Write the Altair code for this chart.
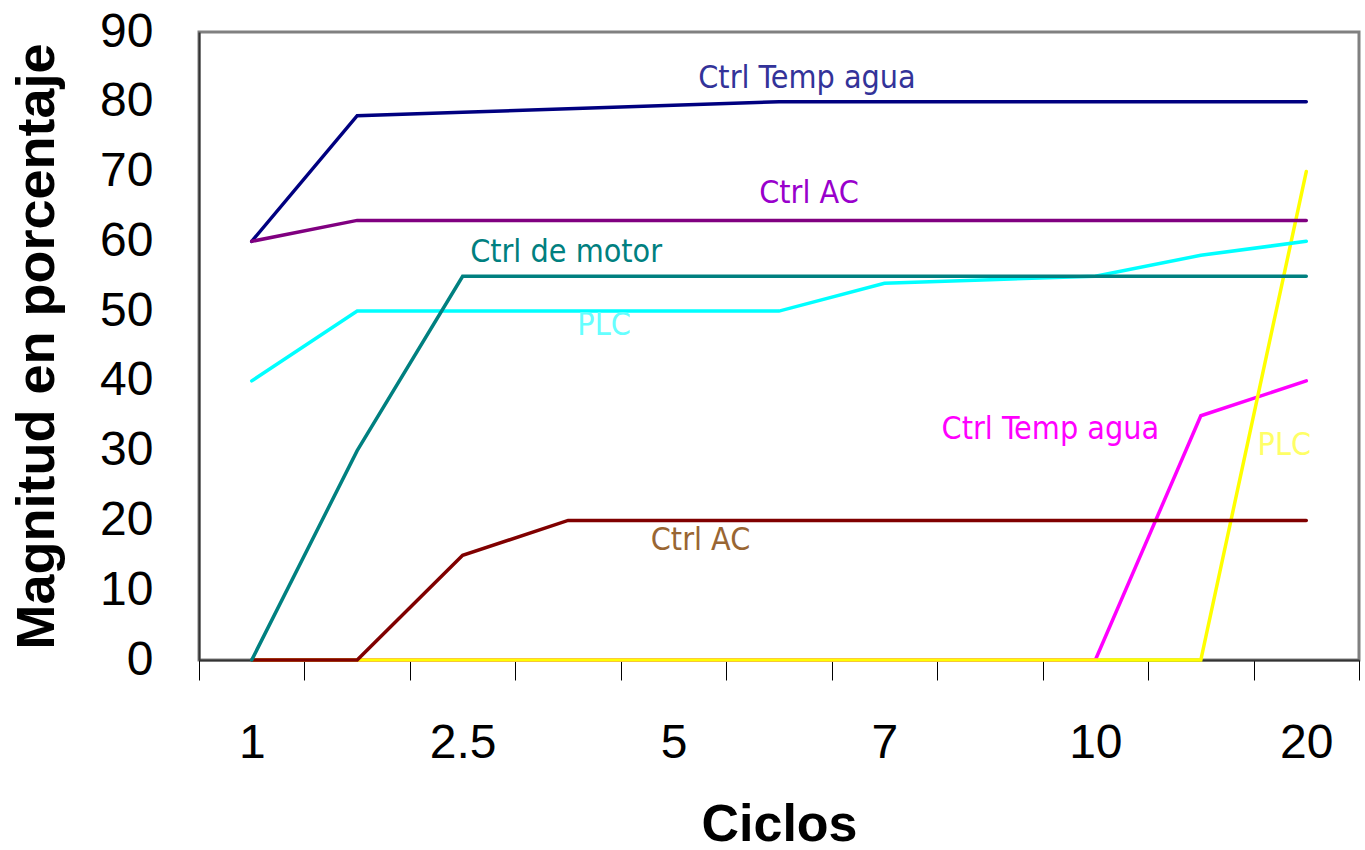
import altair as alt
import pandas as pd

# Cycle categories (every other label left blank on the axis)
categories = list(range(11))
tick_labels = ["1", "", "2.5", "", "5", "", "7", "", "10", "", "20"]

# Series values, in percent, in drawing order
series_names = [
    "Ctrl Temp agua (1)",
    "Ctrl Temp agua (2)",
    "PLC (2)",
    "PLC (1)",
    "Ctrl AC (1)",
    "Ctrl AC (2)",
    "Ctrl de motor",
]
series_values = [
    [60, 78, 78.5, 79, 79.5, 80, 80, 80, 80, 80, 80],
    [0, 0, 0, 0, 0, 0, 0, 0, 0, 35, 40],
    [0, 0, 0, 0, 0, 0, 0, 0, 0, 0, 70],
    [40, 50, 50, 50, 50, 50, 54, 54.5, 55, 58, 60],
    [60, 63, 63, 63, 63, 63, 63, 63, 63, 63, 63],
    [0, 0, 15, 20, 20, 20, 20, 20, 20, 20, 20],
    [0, 30, 55, 55, 55, 55, 55, 55, 55, 55, 55],
]
series_colors = ["#000080", "#FF00FF", "#FFFF00", "#00FFFF", "#800080", "#800000", "#008080"]

# In-plot series labels, anchored at a category and a value
label_texts = ["Ctrl Temp agua", "Ctrl AC", "Ctrl de motor", "PLC", "Ctrl Temp agua", "PLC", "Ctrl AC"]
label_cats = [5, 5, 3, 3, 8, 10, 4]
label_values = [82, 65.5, 57, 46.6, 31.7, 29.4, 15.8]
label_colors = ["#333399", "#9900CC", "#008080", "#66FFFF", "#FF00FF", "#FFFF66", "#996633"]
label_dx = [28, 30, -2, 36, -45, -22, 27]

AXIS_FONT = "Liberation Sans"
LABEL_FONT = "DejaVu Sans Condensed, Noto Sans, DejaVu Sans"

label_expr = "[" + ",".join("'" + t + "'" for t in tick_labels) + "][datum.value]"

x_enc = alt.X(
    "cat:O",
    bandPosition=0.5,
    scale=alt.Scale(type="band", domain=categories, paddingInner=0, paddingOuter=0),
    axis=alt.Axis(
        title="Ciclos",
        labelExpr=label_expr,
        labelAngle=0,
        labelOverlap=False,
        tickBand="extent",
        tickSize=20,
        tickColor="#000000",
        tickWidth=1,
        labelPadding=39,
        labelFont=AXIS_FONT,
        labelFontSize=48,
        labelColor="#000000",
        domainColor="#333333",
        domainWidth=2,
        titleFont=AXIS_FONT,
        titleFontSize=52,
        titleFontWeight="bold",
        titleColor="#000000",
        titleX=580,
        titleY=180,
        titleAlign="center",
        titleBaseline="alphabetic",
    ),
)

y_enc = alt.Y(
    "value:Q",
    scale=alt.Scale(domain=[0, 90], nice=False, zero=True),
    axis=alt.Axis(
        title="Magnitud en porcentaje",
        values=list(range(0, 91, 10)),
        grid=False,
        ticks=False,
        tickSize=0,
        labelPadding=46,
        labelFont=AXIS_FONT,
        labelFontSize=48,
        labelColor="#000000",
        domainColor="#333333",
        domainWidth=2,
        titleFont=AXIS_FONT,
        titleFontSize=54,
        titleFontWeight="bold",
        titleColor="#000000",
        titleAngle=270,
        titleX=-146,
        titleY=314,
        titleAlign="center",
        titleBaseline="alphabetic",
    ),
)

layers = []
for name, vals, color in zip(series_names, series_values, series_colors):
    df = pd.DataFrame({"cat": categories, "value": vals, "serie": name})
    layers.append(
        alt.Chart(df)
        .mark_line(color=color, strokeWidth=3.5, strokeCap="round")
        .encode(x=x_enc, y=y_enc)
    )

for text, cat, val, color, dx in zip(label_texts, label_cats, label_values, label_colors, label_dx):
    df = pd.DataFrame({"cat": [cat], "value": [val], "text": [text]})
    layers.append(
        alt.Chart(df)
        .mark_text(
            font=LABEL_FONT,
            fontSize=32,
            color=color,
            align="center",
            baseline="alphabetic",
            dx=dx,
        )
        .encode(x=x_enc, y=y_enc, text="text:N")
    )

chart = (
    alt.layer(*layers)
    .properties(
        width=1160,
        height=628,
        autosize=alt.AutoSizeParams(type="none"),
        padding={"left": 199, "top": 32, "right": 6, "bottom": 190},
        background="#FFFFFF",
    )
    .configure_view(stroke="#808080", strokeWidth=3)
)

chart.save("out.html", embed_options={"renderer": "svg", "actions": False})
